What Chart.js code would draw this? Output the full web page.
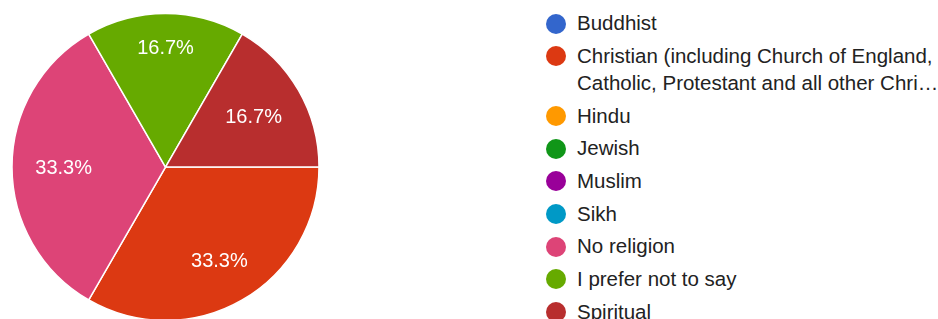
<!DOCTYPE html>
<html>
<head>
<meta charset="utf-8">
<script src="https://cdn.jsdelivr.net/npm/chart.js@4"></script>
<style>
  html, body { margin: 0; padding: 0; background: #fff; overflow: hidden; }
  body { width: 938px; height: 319px; position: relative; }
  #pie { position: absolute; left: 0; top: 0; }
  #legend { position: absolute; left: 546px; top: 10.4px; font: 20.5px Arial, "Liberation Sans", sans-serif; color: #222; }
  .item { position: relative; padding-left: 31px; line-height: 26.7px; margin-bottom: 6px; }
  .dot { position: absolute; left: 0; top: 3.4px; width: 20px; height: 20px; border-radius: 50%; }
  .line { white-space: nowrap; }
  .clip { white-space: nowrap; overflow: hidden; text-overflow: ellipsis; }
</style>
</head>
<body>
<canvas id="pie" width="331" height="334"></canvas>
<div id="legend"></div>
<script>
const categories = [
  'Buddhist',
  'Christian (including Church of England, Catholic, Protestant and all other Christian denominations)',
  'Hindu',
  'Jewish',
  'Muslim',
  'Sikh',
  'No religion',
  'I prefer not to say',
  'Spiritual'
];
const responses = [0, 2, 0, 0, 0, 0, 2, 1, 1];
const sliceColors = ['#3366cc', '#dc3912', '#ff9900', '#109618', '#990099', '#0099c6', '#dd4477', '#66aa00', '#b82e2e'];

const LABEL_FONT = '20px Arial, "Liberation Sans", sans-serif';
const LEGEND_FONT = '20.5px Arial, "Liberation Sans", sans-serif';
const LEGEND_TEXT_WIDTH = 363;

const sliceLabels = {
  id: 'sliceLabels',
  afterDatasetsDraw(chart) {
    const ctx = chart.ctx;
    const meta = chart.getDatasetMeta(0);
    const values = chart.data.datasets[0].data;
    const total = values.reduce((a, b) => a + b, 0);
    ctx.save();
    ctx.font = LABEL_FONT;
    ctx.fillStyle = '#ffffff';
    ctx.textAlign = 'center';
    ctx.textBaseline = 'middle';
    meta.data.forEach((arc, i) => {
      if (!values[i]) return;
      const p = arc.getProps(['x', 'y', 'startAngle', 'endAngle', 'outerRadius'], true);
      const mid = (p.startAngle + p.endAngle) / 2;
      const ux = Math.cos(mid), uy = Math.sin(mid);
      const text = (values[i] / total * 100).toFixed(1) + '%';
      const hw = ctx.measureText(text).width / 2, hh = 8;
      const R = 0.85 * p.outerRadius;
      const b = hw * Math.abs(ux) + hh * Math.abs(uy);
      const c = hw * hw + hh * hh - R * R;
      const d = -b + Math.sqrt(b * b - c);
      ctx.fillText(text, p.x + ux * d, p.y + uy * d + 1);
    });
    ctx.restore();
  }
};

const chart = new Chart(document.getElementById('pie'), {
  type: 'pie',
  data: {
    labels: categories,
    datasets: [{
      data: responses,
      backgroundColor: sliceColors,
      borderColor: '#ffffff',
      borderWidth: 1.5
    }]
  },
  options: {
    responsive: false,
    animation: false,
    rotation: 90,
    radius: 153.5,
    layout: { padding: 0 },
    plugins: { legend: { display: false }, tooltip: { enabled: false } }
  },
  plugins: [sliceLabels]
});

// HTML legend built from chart data
(function buildLegend() {
  const legend = document.getElementById('legend');
  const mctx = document.createElement('canvas').getContext('2d');
  mctx.font = LEGEND_FONT;
  const ds = chart.data.datasets[0];
  chart.data.labels.forEach((label, i) => {
    const item = document.createElement('div');
    item.className = 'item';
    const dot = document.createElement('span');
    dot.className = 'dot';
    dot.style.background = ds.backgroundColor[i];
    item.appendChild(dot);
    const words = label.split(' ');
    let first = '';
    let k = 0;
    for (; k < words.length; k++) {
      const test = first ? first + ' ' + words[k] : words[k];
      if (mctx.measureText(test).width > LEGEND_TEXT_WIDTH && first) break;
      first = test;
    }
    const l1 = document.createElement('div');
    l1.className = 'line';
    l1.textContent = first;
    item.appendChild(l1);
    if (k < words.length) {
      const l2 = document.createElement('div');
      l2.className = 'clip';
      l2.style.width = LEGEND_TEXT_WIDTH + 'px';
      l2.textContent = words.slice(k).join(' ');
      item.appendChild(l2);
    }
    legend.appendChild(item);
  });
})();
</script>
</body>
</html>
